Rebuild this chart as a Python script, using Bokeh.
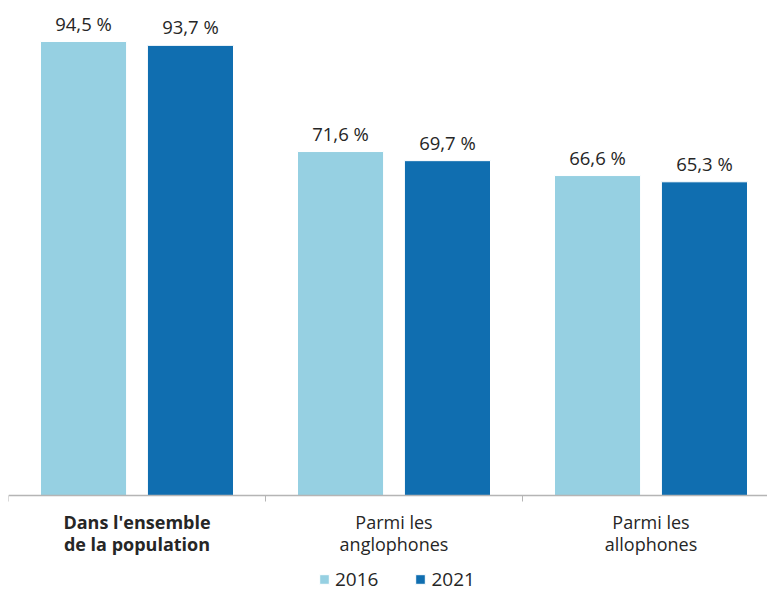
from bokeh.plotting import figure
from bokeh.models import ColumnDataSource, LabelSet, Legend, LegendItem, FixedTicker, Range1d
from bokeh.core.properties import value
from bokeh.embed import file_html
from bokeh.resources import INLINE

categories = ["Dans l'ensemble\nde la population", "Parmi les\nanglophones", "Parmi les\nallophones"]
category_styles = ["bold", "normal", "normal"]
series = ["2016", "2021"]
values_2016 = [94.5, 71.6, 66.6]
values_2021 = [93.7, 69.7, 65.3]
colors = ["#96D0E2", "#106EB0"]

FONT_NAME = "Open Sans"
FONT = value(FONT_NAME)
TEXT = "#262626"

centers = [i + 0.5 for i in range(len(categories))]
offset = 0.208
bw = 0.335
px_per_unit = 495 / 103.04

p = figure(width=767, height=592, output_backend="svg", toolbar_location=None,
           x_range=Range1d(0, 759 / 257),
           y_range=Range1d(-97 / px_per_unit, 103.04),
           min_border_left=8, min_border_right=0, min_border_top=0, min_border_bottom=0)
p.outline_line_color = None
p.grid.visible = False
p.yaxis.visible = False

renderers = []
for k, (vals, col) in enumerate(zip([values_2016, values_2021], colors)):
    xs = [c + (offset if k else -offset) for c in centers]
    src = ColumnDataSource(dict(x=xs, top=vals,
                                lab=[f"{v:.1f}".replace(".", ",") + " %" for v in vals]))
    r = p.vbar(x="x", top="top", width=bw, source=src, fill_color=col, line_color="white", line_width=1)
    renderers.append(r)
    p.add_layout(LabelSet(x="x", y="top", text="lab", source=src, y_offset=6,
                          text_align="center", text_baseline="bottom",
                          text_font=FONT, text_font_size="18.5px", text_color=TEXT))

ax = p.xaxis[0]
ax.fixed_location = 0
ax.ticker = FixedTicker(ticks=[0, 1, 2, 3])
ax.major_tick_in = 0
ax.major_tick_out = 6
ax.minor_tick_line_color = None
ax.major_label_overrides = {0: "", 1: "", 2: "", 3: ""}
ax.axis_line_color = "#B5B5B5"
ax.major_tick_line_color = "#B5B5B5"
ax.axis_line_width = 1.5

lines = [c.split("\n") for c in categories]
for i, ypx in enumerate([26, 48]):
    src = ColumnDataSource(dict(x=centers, y=[-ypx / px_per_unit] * 3,
                                t=[ln[i] for ln in lines], s=category_styles))
    p.add_layout(LabelSet(x="x", y="y", text="t", source=src, text_align="center",
                          text_baseline="middle", text_font=FONT, text_font_size="18px",
                          text_color=TEXT, text_font_style="s"))

legend = Legend(items=[LegendItem(label=s, renderers=[r]) for s, r in zip(series, renderers)],
                orientation="horizontal", location=(310, 0), border_line_color=None,
                background_fill_alpha=0, glyph_width=12, glyph_height=12, label_standoff=5,
                spacing=36, padding=0, margin=0,
                label_text_font=FONT_NAME, label_text_font_size="19px", label_text_color=TEXT)
p.add_layout(legend, "center")

open("out.html", "w").write(file_html(p, INLINE))
